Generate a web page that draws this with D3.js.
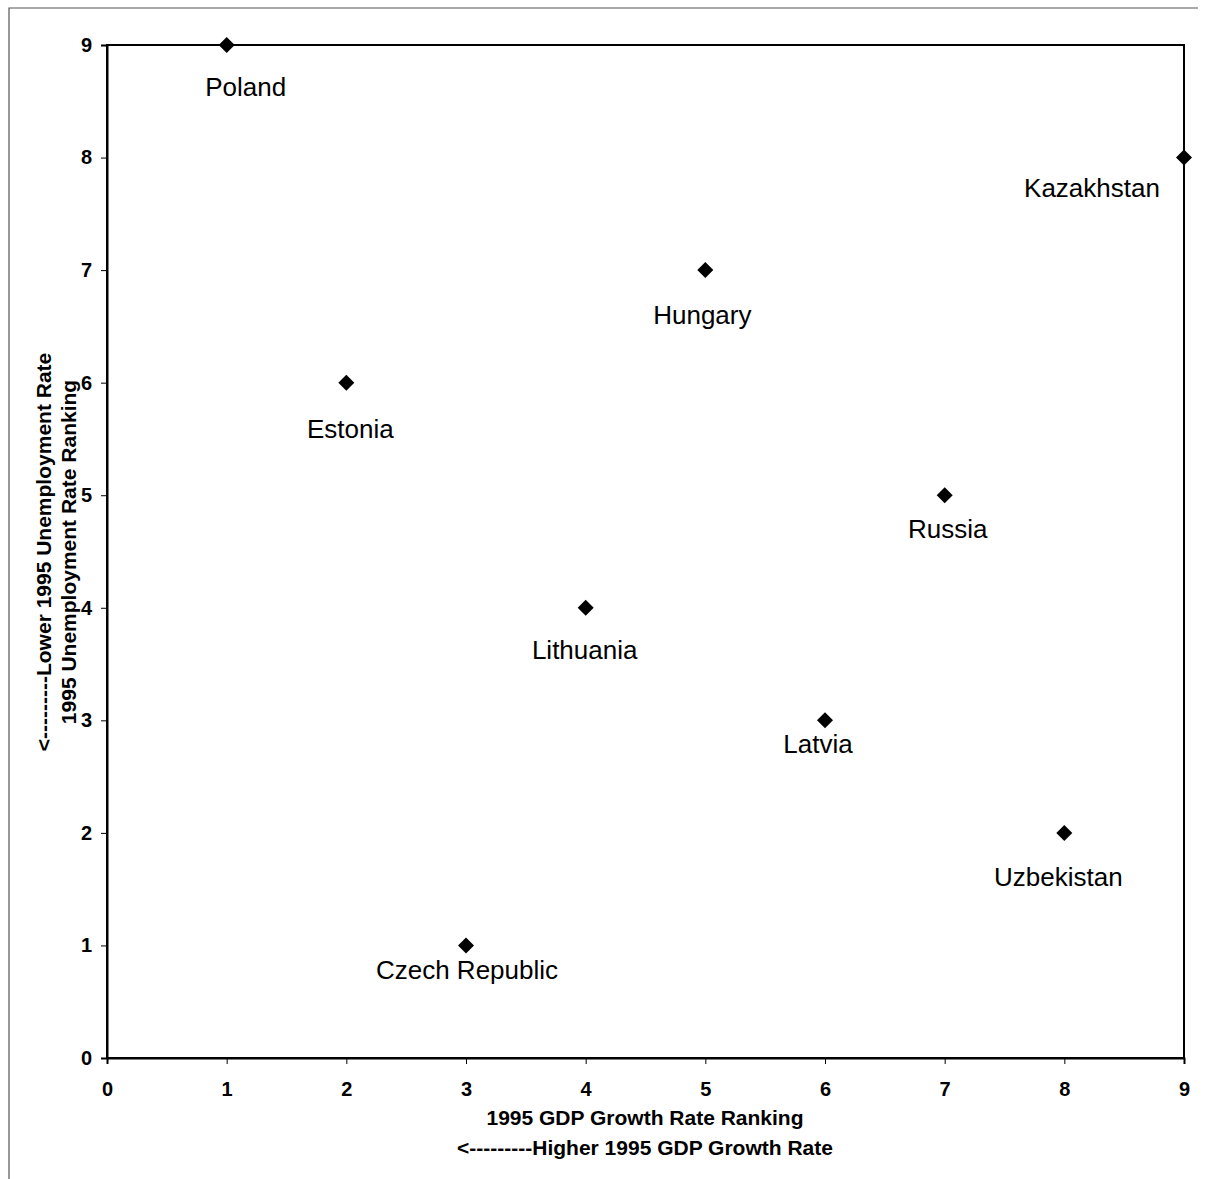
<!DOCTYPE html>
<html><head><meta charset="utf-8">
<script src="https://cdn.jsdelivr.net/npm/d3@7"></script>
<style>body{margin:0;background:#fff}svg{display:block}</style>
</head><body>
<svg id="c" width="1206" height="1179"></svg>
<script>
const countries = ["Poland","Kazakhstan","Hungary","Estonia","Russia","Lithuania","Latvia","Uzbekistan","Czech Republic"];
const gdpRank = [1,9,5,2,7,4,6,8,3];
const unempRank = [9,8,7,6,5,4,3,2,1];
const xTicks = [0,1,2,3,4,5,6,7,8,9];
const yTicks = [0,1,2,3,4,5,6,7,8,9];
// label layout offsets (pixels from the marker to label anchor)
const labelDx = [19,-92,-3,4,3,-1,-7,-6,1];
const labelDy = [51,39,54,55,43,51,33,53,34];

const svg = d3.select("#c");
const M = {l:107, t:45, r:1184, b:1058};
const x = d3.scaleLinear().domain([0,9]).range([M.l, M.r]);
const y = d3.scaleLinear().domain([0,9]).range([M.b, M.t]);
const font = "'Liberation Sans', Arial, sans-serif";

// outer frame
svg.append("path").attr("d","M9,1179V8H1198").attr("fill","none").attr("stroke","#555").attr("stroke-width",1.2);

// plot box
svg.append("rect").attr("x",M.l).attr("y",M.t).attr("width",M.r-M.l).attr("height",M.b-M.t)
  .attr("fill","none").attr("stroke","#000").attr("stroke-width",2);

const xa = svg.append("g").attr("transform",`translate(0,${M.b})`)
  .call(d3.axisBottom(x).tickValues(xTicks).tickFormat(d3.format("d")).tickSize(6).tickPadding(18));
const ya = svg.append("g").attr("transform",`translate(${M.l},0)`)
  .call(d3.axisLeft(y).tickValues(yTicks).tickFormat(d3.format("d")).tickSize(6).tickPadding(9));
[xa,ya].forEach(a=>{
  a.select(".domain").attr("stroke","#000").attr("stroke-width",2);
  a.selectAll(".tick line").attr("stroke","#000").attr("stroke-width",1);
  a.selectAll(".tick text").attr("font-family",font).attr("font-size",20).attr("font-weight","bold").attr("fill","#000");
});

// points
svg.append("g").selectAll("path").data(countries).join("path")
  .attr("d", d3.symbol(d3.symbolSquare, 128))
  .attr("transform",(d,i)=>`translate(${x(gdpRank[i])},${y(unempRank[i])}) rotate(45)`)
  .attr("fill","#000");

// labels
svg.append("g").selectAll("text").data(countries).join("text")
  .attr("x",(d,i)=>x(gdpRank[i])+labelDx[i])
  .attr("y",(d,i)=>y(unempRank[i])+labelDy[i])
  .attr("text-anchor","middle").attr("font-family",font).attr("font-size",26).attr("fill","#000")
  .text(d=>d);

// axis titles
const tfs = 21;
svg.append("text").attr("x",645).attr("y",1125).attr("text-anchor","middle")
  .attr("font-family",font).attr("font-size",tfs).attr("font-weight","bold").text("1995 GDP Growth Rate Ranking");
svg.append("text").attr("x",645).attr("y",1155).attr("text-anchor","middle")
  .attr("font-family",font).attr("font-size",tfs).attr("font-weight","bold").text("<---------Higher 1995 GDP Growth Rate");
svg.append("text").attr("transform","translate(76,552) rotate(-90)").attr("text-anchor","middle")
  .attr("font-family",font).attr("font-size",tfs).attr("font-weight","bold").text("1995 Unemployment Rate Ranking");
svg.append("text").attr("transform","translate(51,552) rotate(-90)").attr("text-anchor","middle")
  .attr("font-family",font).attr("font-size",tfs).attr("font-weight","bold").text("<---------Lower 1995 Unemployment Rate");
</script>
</body></html>
